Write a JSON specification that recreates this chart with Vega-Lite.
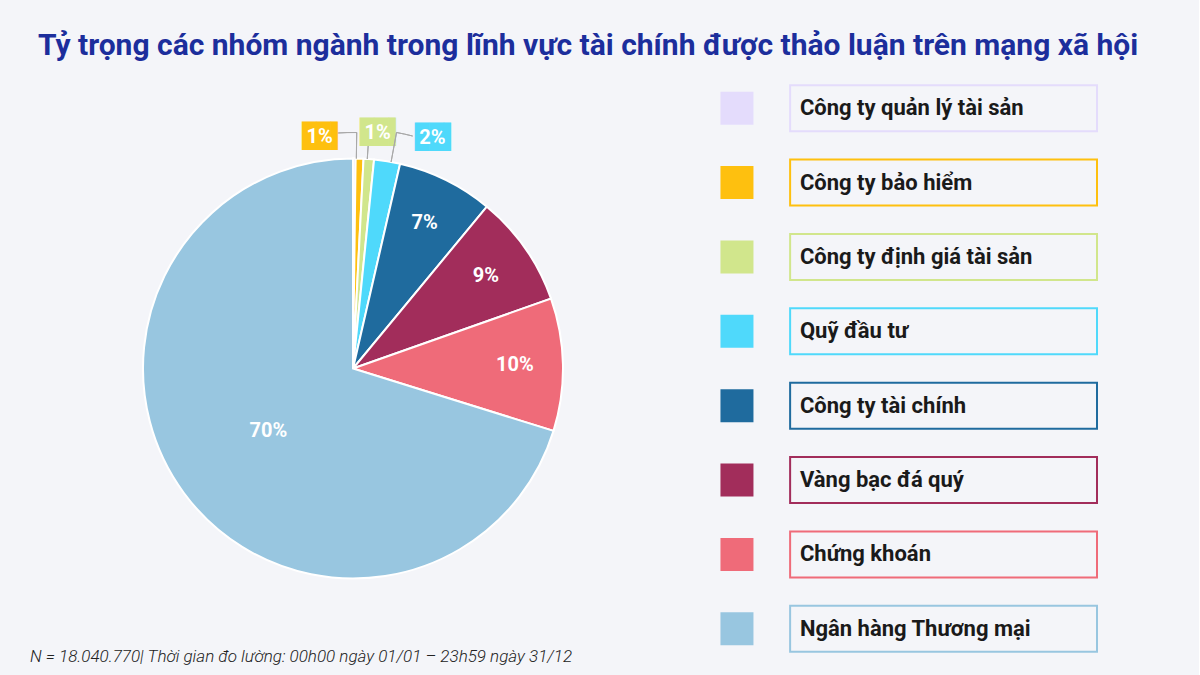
{
  "$schema": "https://vega.github.io/schema/vega-lite/v6.json",
  "background": "#f4f5f9",
  "padding": {"left": 30, "top": 31, "right": 60, "bottom": 10},
  "config": {
    "view": {"stroke": null},
    "font": "Roboto"
  },
  "title": {
    "text": "Tỷ trọng các nhóm ngành trong lĩnh vực tài chính được thảo luận trên mạng xã hội",
    "anchor": "start",
    "dx": 8,
    "offset": 10,
    "fontSize": 30,
    "fontWeight": "bold",
    "font": "Roboto",
    "color": "#1c2e9c"
  },
  "data": {
    "values": [
      {"rank": 1, "category": "Công ty quản lý tài sản", "share": 0.002},
      {"rank": 2, "category": "Công ty bảo hiểm", "share": 0.006},
      {"rank": 3, "category": "Công ty định giá tài sản", "share": 0.008},
      {"rank": 4, "category": "Quỹ đầu tư", "share": 0.02},
      {"rank": 5, "category": "Công ty tài chính", "share": 0.074},
      {"rank": 6, "category": "Vàng bạc đá quý", "share": 0.086},
      {"rank": 7, "category": "Chứng khoán", "share": 0.102},
      {"rank": 8, "category": "Ngân hàng Thương mại", "share": 0.702}
    ]
  },
  "spacing": 114,
  "hconcat": [
    {
      "width": 506,
      "height": 595,
      "title": {
        "text": "N = 18.040.770| Thời gian đo lường: 00h00 ngày 01/01 – 23h59 ngày 31/12",
        "orient": "bottom",
        "anchor": "start",
        "dx": -70,
        "dy": -21,
        "fontSize": 17,
        "fontStyle": "italic",
        "fontWeight": 300,
        "font": "Roboto",
        "color": "#222222"
      },
      "transform": [
        {"stack": "share", "groupby": [], "sort": [{"field": "rank", "order": "ascending"}], "as": ["s0", "s1"]},
        {"calculate": "(datum.s0 + datum.s1) / 2", "as": "mid"}
      ],
      "layer": [
        {
          "mark": {"type": "arc", "outerRadius": 210, "stroke": "white", "strokeWidth": 2},
          "encoding": {
            "theta": {"field": "s0", "type": "quantitative", "scale": {"domain": [0, 1]}},
            "theta2": {"field": "s1"},
            "color": {
              "field": "category",
              "type": "nominal",
              "scale": {
                "domain": ["Công ty quản lý tài sản", "Công ty bảo hiểm", "Công ty định giá tài sản", "Quỹ đầu tư", "Công ty tài chính", "Vàng bạc đá quý", "Chứng khoán", "Ngân hàng Thương mại"],
                "range": ["#e4dcfc", "#fec00f", "#d1e68c", "#4fd9fb", "#1f6b9e", "#a22d5b", "#ef6b79", "#98c6e0"]
              },
              "legend": null
            }
          }
        },
        {
          "transform": [{"filter": "datum.share >= 0.05 && datum.share < 0.5"}],
          "mark": {"type": "text", "color": "white", "fontSize": 20, "fontWeight": "bold", "radius": 162},
          "encoding": {
            "theta": {"field": "mid", "type": "quantitative"},
            "text": {"field": "share", "type": "quantitative", "format": ".0%"}
          }
        },
        {
          "transform": [{"filter": "datum.share >= 0.5"}],
          "mark": {"type": "text", "color": "white", "fontSize": 20, "fontWeight": "bold", "radius": 105},
          "encoding": {
            "theta": {"field": "mid", "type": "quantitative"},
            "text": {"field": "share", "type": "quantitative", "format": ".0%"}
          }
        },
        {
          "transform": [{"filter": "datum.category == 'Công ty bảo hiểm'"}],
          "layer": [
            {
              "mark": {"type": "arc", "fill": "transparent", "stroke": "#a8a8a8", "strokeWidth": 1, "innerRadius": 210, "outerRadius": 236},
              "encoding": {"theta": {"datum": 0.0025, "type": "quantitative"}, "theta2": {"datum": 0.00255}}
            },
            {
              "mark": {"type": "arc", "fill": "transparent", "stroke": "#a8a8a8", "strokeWidth": 1, "innerRadius": 236, "outerRadius": 236},
              "encoding": {"theta": {"datum": -0.0104, "type": "quantitative"}, "theta2": {"datum": 0.0025}}
            },
            {
              "mark": {"type": "text", "text": "██▌", "font": "DejaVu Sans Mono", "fontSize": 24, "dx": 4, "color": "#fec00f", "radius": 234},
              "encoding": {"theta": {"datum": -0.0228, "type": "quantitative"}}
            },
            {
              "mark": {"type": "text", "color": "white", "fontSize": 20, "fontWeight": "bold", "radius": 234},
              "encoding": {
                "theta": {"datum": -0.0228, "type": "quantitative"},
                "text": {"field": "share", "type": "quantitative", "format": ".0%"}
              }
            }
          ]
        },
        {
          "transform": [{"filter": "datum.category == 'Công ty định giá tài sản'"}],
          "layer": [
            {
              "mark": {"type": "arc", "fill": "transparent", "stroke": "#a8a8a8", "strokeWidth": 1, "innerRadius": 210, "outerRadius": 223},
              "encoding": {"theta": {"datum": 0.0108, "type": "quantitative"}, "theta2": {"datum": 0.01085}}
            },
            {
              "mark": {"type": "text", "text": "██▌", "font": "DejaVu Sans Mono", "fontSize": 24, "dx": 4, "color": "#d1e68c", "radius": 237},
              "encoding": {"theta": {"datum": 0.0165, "type": "quantitative"}}
            },
            {
              "mark": {"type": "text", "color": "white", "fontSize": 20, "fontWeight": "bold", "radius": 237},
              "encoding": {
                "theta": {"datum": 0.0165, "type": "quantitative"},
                "text": {"field": "share", "type": "quantitative", "format": ".0%"}
              }
            }
          ]
        },
        {
          "transform": [{"filter": "datum.category == 'Quỹ đầu tư'"}],
          "layer": [
            {
              "mark": {"type": "arc", "fill": "transparent", "stroke": "#a8a8a8", "strokeWidth": 1, "innerRadius": 210, "outerRadius": 240},
              "encoding": {"theta": {"datum": 0.029, "type": "quantitative"}, "theta2": {"datum": 0.02905}}
            },
            {
              "mark": {"type": "arc", "fill": "transparent", "stroke": "#a8a8a8", "strokeWidth": 1, "innerRadius": 240, "outerRadius": 240},
              "encoding": {"theta": {"datum": 0.029, "type": "quantitative"}, "theta2": {"datum": 0.04}}
            },
            {
              "mark": {"type": "text", "text": "██▌", "font": "DejaVu Sans Mono", "fontSize": 24, "dx": 4, "color": "#4fd9fb", "radius": 244},
              "encoding": {"theta": {"datum": 0.0528, "type": "quantitative"}}
            },
            {
              "mark": {"type": "text", "color": "white", "fontSize": 20, "fontWeight": "bold", "radius": 244},
              "encoding": {
                "theta": {"datum": 0.0528, "type": "quantitative"},
                "text": {"field": "share", "type": "quantitative", "format": ".0%"}
              }
            }
          ]
        }
      ]
    },
    {
      "width": 377,
      "height": 595,
      "encoding": {
        "y": {
          "field": "category",
          "type": "nominal",
          "sort": {"field": "rank"},
          "scale": {"paddingInner": 0, "paddingOuter": 0},
          "axis": null
        }
      },
      "layer": [
        {
          "mark": {"type": "point", "shape": "square", "size": 1089, "filled": true, "opacity": 1},
          "encoding": {
            "x": {"datum": 0.045, "type": "quantitative", "scale": {"domain": [0, 1], "nice": false}, "axis": null},
            "color": {
              "field": "category",
              "type": "nominal",
              "scale": {
                "domain": ["Công ty quản lý tài sản", "Công ty bảo hiểm", "Công ty định giá tài sản", "Quỹ đầu tư", "Công ty tài chính", "Vàng bạc đá quý", "Chứng khoán", "Ngân hàng Thương mại"],
                "range": ["#e4dcfc", "#fec00f", "#d1e68c", "#4fd9fb", "#1f6b9e", "#a22d5b", "#ef6b79", "#98c6e0"]
              },
              "legend": null
            }
          }
        },
        {
          "mark": {"type": "bar", "fill": "transparent", "strokeWidth": 2, "height": {"band": 0.62}},
          "encoding": {
            "x": {"datum": 0.186, "type": "quantitative"},
            "x2": {"datum": 1},
            "stroke": {
              "field": "category",
              "type": "nominal",
              "scale": {
                "domain": ["Công ty quản lý tài sản", "Công ty bảo hiểm", "Công ty định giá tài sản", "Quỹ đầu tư", "Công ty tài chính", "Vàng bạc đá quý", "Chứng khoán", "Ngân hàng Thương mại"],
                "range": ["#e4dcfc", "#fec00f", "#d1e68c", "#4fd9fb", "#1f6b9e", "#a22d5b", "#ef6b79", "#98c6e0"]
              },
              "legend": null
            }
          }
        },
        {
          "mark": {"type": "text", "align": "left", "fontSize": 22, "fontWeight": "bold", "color": "#1a1a1a", "font": "Roboto"},
          "encoding": {
            "x": {"datum": 0.212, "type": "quantitative"},
            "text": {"field": "category", "type": "nominal"}
          }
        }
      ]
    }
  ]
}
